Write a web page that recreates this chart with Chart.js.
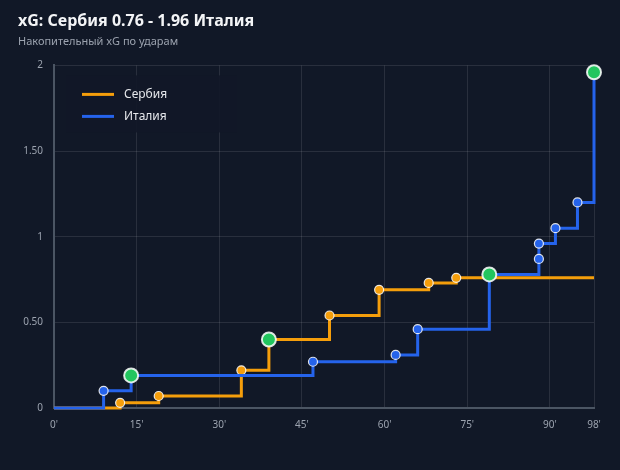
<!DOCTYPE html>
<html>
<head>
<meta charset="utf-8">
<script src="https://cdn.jsdelivr.net/npm/chart.js@4/dist/chart.umd.min.js"></script>
<style>
  html, body { margin: 0; padding: 0; background: #111827; }
  #wrap { width: 620px; height: 470px; }
</style>
</head>
<body>
<div id="wrap"><canvas id="xgChart" width="620" height="470"></canvas></div>
<script>
// shot minutes and running xG total after each shot
const serbiaMinutes = [12, 19, 34, 39, 50, 59, 68, 73];
const serbiaXg      = [0.03, 0.07, 0.22, 0.40, 0.54, 0.69, 0.73, 0.76];
const serbiaGoals   = [39];

const italyMinutes  = [9, 14, 47, 62, 66, 79, 88, 88, 91, 95, 98];
const italyXg       = [0.10, 0.19, 0.27, 0.31, 0.46, 0.78, 0.87, 0.96, 1.05, 1.20, 1.96];
const italyGoals    = [14, 79, 98];

const xTicks = [0, 15, 30, 45, 60, 75, 90, 98];
const endMinute = 98;

const BG = '#111827';
const ORANGE = '#f59e0b';
const BLUE = '#2563eb';
const GOAL = '#22c55e';

// build stepped series: start at 0', one point per shot, carry last value to the final whistle
const buildSeries = (minutes, xg, goals) => {
    const pts = [{ x: 0, y: 0, shot: false, goal: false }];
    minutes.forEach((m, i) => pts.push({ x: m, y: xg[i], shot: true, goal: goals.includes(m) && (i === minutes.length - 1 || minutes[i + 1] !== m) }));
    const last = pts[pts.length - 1];
    if (last.x < endMinute) pts.push({ x: endMinute, y: last.y, shot: false, goal: false });
    return pts;
};

const makeDataset = (label, color, pts, order) => ({
    label: label,
    data: pts,
    order: order,
    borderColor: color,
    backgroundColor: color,
    borderWidth: 3,
    stepped: 'before',
    clip: false,
    pointRadius: ctx => { const p = ctx.raw; return !p || !p.shot ? 0 : (p.goal ? 7 : 4.5); },
    pointBackgroundColor: ctx => (ctx.raw && ctx.raw.goal ? GOAL : color),
    pointBorderColor: 'rgba(255,255,255,0.85)',
    pointBorderWidth: ctx => (ctx.raw && ctx.raw.goal ? 2 : 1.2),
    pointHoverRadius: 0
});

// legend panel drawn inside the plot area
const legendBox = {
    id: 'legendBox',
    afterDraw(chart) {
        const ctx = chart.ctx;
        const area = chart.chartArea;
        const x = area.left + 12, y = area.top + 10;
        ctx.save();
        ctx.fillStyle = 'rgba(17,24,39,0.92)';
        ctx.fillRect(x, y, 171, 57);
        chart.data.datasets.forEach((ds, i) => {
            const cy = y + 19 + i * 22;
            ctx.strokeStyle = ds.borderColor;
            ctx.lineWidth = 3;
            ctx.beginPath();
            ctx.moveTo(x + 16, cy);
            ctx.lineTo(x + 48, cy);
            ctx.stroke();
            ctx.fillStyle = '#e5e7eb';
            ctx.font = '12px "Noto Sans"';
            ctx.textBaseline = 'middle';
            ctx.fillText(ds.label, x + 58, cy);
        });
        ctx.restore();
    }
};

const bgFill = {
    id: 'bgFill',
    beforeDraw(chart) {
        const ctx = chart.ctx;
        ctx.save();
        ctx.fillStyle = BG;
        ctx.fillRect(0, 0, chart.width, chart.height);
        ctx.restore();
    }
};

const fmtY = v => (v === 0 ? '0' : Number.isInteger(v) ? String(v) : v.toFixed(2));

new Chart(document.getElementById('xgChart'), {
    type: 'line',
    data: {
        datasets: [
            makeDataset('Сербия', ORANGE, buildSeries(serbiaMinutes, serbiaXg, serbiaGoals), 1),
            makeDataset('Италия', BLUE, buildSeries(italyMinutes, italyXg, italyGoals), 0)
        ]
    },
    options: {
        responsive: false,
        animation: false,
        layout: { padding: { left: 18, right: 26, top: 0, bottom: 28 } },
        plugins: {
            legend: { display: false },
            tooltip: { enabled: false },
            title: {
                display: true,
                text: 'xG: Сербия 0.76 - 1.96 Италия',
                align: 'start',
                color: '#f3f4f6',
                font: { family: '"Noto Sans"', size: 16, weight: 'bold' },
                padding: { top: 12, bottom: 2 }
            },
            subtitle: {
                display: true,
                text: 'Накопительный xG по ударам',
                align: 'start',
                color: '#9ca3af',
                font: { family: '"Noto Sans"', size: 11 },
                padding: { top: 2, bottom: 17 }
            }
        },
        scales: {
            x: {
                type: 'linear',
                min: 0,
                max: endMinute,
                afterBuildTicks: scale => { scale.ticks = xTicks.map(v => ({ value: v })); },
                ticks: {
                    color: '#9ca3af',
                    font: { family: '"Noto Sans"', size: 10 },
                    padding: 11,
                    maxRotation: 0,
                    callback: v => v + "'"
                },
                grid: { color: 'rgba(255,255,255,0.1)', drawTicks: false },
                border: { color: '#4b5563', width: 2 }
            },
            y: {
                min: 0,
                max: 2,
                afterFit: scale => { scale.width = 36; },
                ticks: {
                    stepSize: 0.5,
                    color: '#9ca3af',
                    font: { family: '"Noto Sans"', size: 10 },
                    padding: 11,
                    callback: fmtY
                },
                grid: { color: 'rgba(255,255,255,0.1)', drawTicks: false },
                border: { color: '#4b5563', width: 2 }
            }
        }
    },
    plugins: [bgFill, legendBox]
});
</script>
</body>
</html>
